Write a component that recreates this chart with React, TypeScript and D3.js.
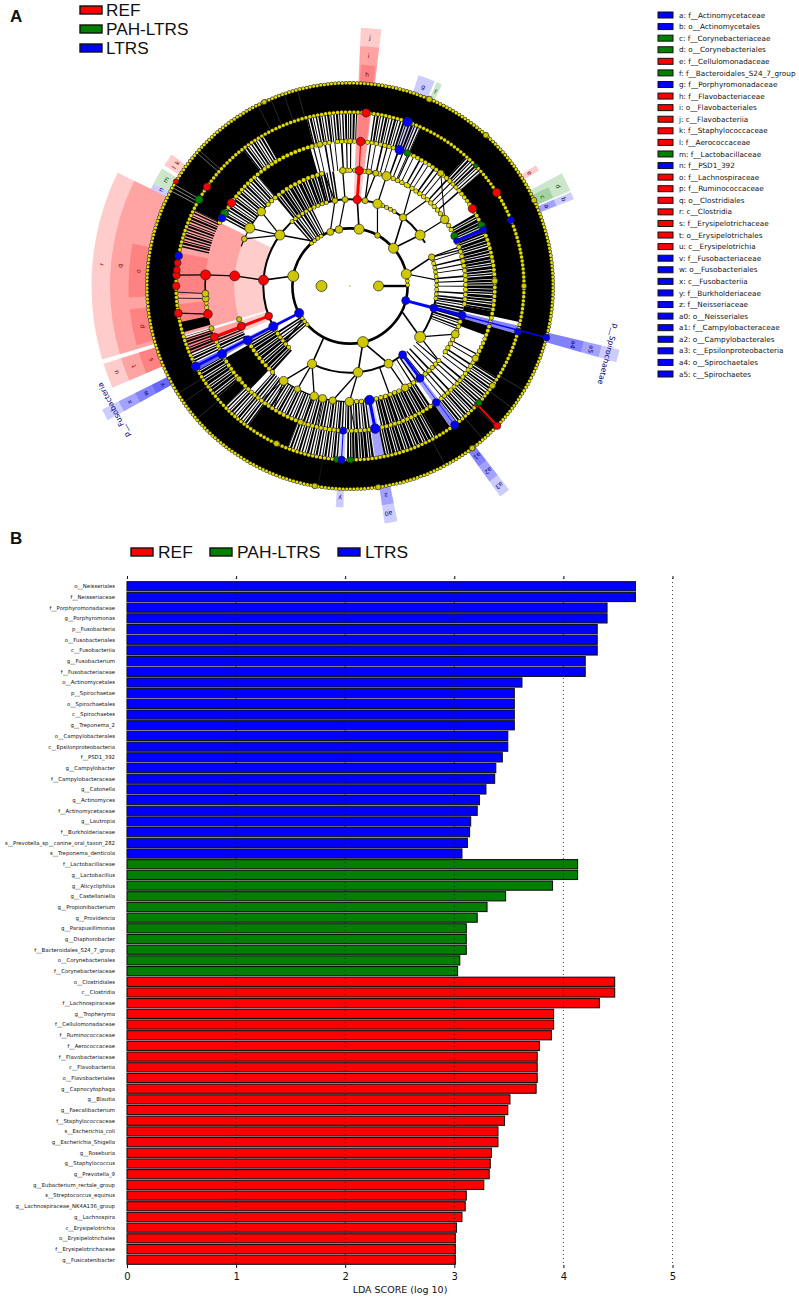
import * as d3 from "d3";
import { useEffect, useRef } from "react";

const W = 799;
const H = 1299;
const SANS = "DejaVu Sans";
const ARIAL = "Liberation Sans";

const groupNames = ["REF", "PAH-LTRS", "LTRS"];
const groupFill = ["#ff0000", "#008000", "#0000ff"];
const labelFill = ["#7a0000", "#005000", "#00007a"];

// LDA bars, top to bottom
const ltrsTaxa = ["o__Neisseriales", "f__Neisseriaceae", "f__Porphyromonadaceae", "g__Porphyromonas", "p__Fusobacteria", "o__Fusobacteriales", "c__Fusobacteriia", "g__Fusobacterium", "f__Fusobacteriaceae", "o__Actinomycetales", "p__Spirochaetae", "o__Spirochaetales", "c__Spirochaetes", "g__Treponema_2", "o__Campylobacterales", "c__Epsilonproteobacteria", "f__PSD1_392", "g__Campylobacter", "f__Campylobacteraceae", "g__Catonella", "g__Actinomyces", "f__Actinomycetaceae", "g__Lautropia", "f__Burkholderiaceae", "s__Prevotella_sp__canine_oral_taxon_282", "s__Treponema_denticola"];
const ltrsScores = [4.66, 4.66, 4.4, 4.4, 4.31, 4.31, 4.31, 4.2, 4.2, 3.62, 3.55, 3.55, 3.55, 3.55, 3.49, 3.49, 3.44, 3.38, 3.37, 3.29, 3.23, 3.21, 3.15, 3.14, 3.12, 3.07];
const pahTaxa = ["f__Lactobacillaceae", "g__Lactobacillus", "g__Alicycliphilus", "g__Castellaniella", "g__Propionibacterium", "g__Providencia", "g__Parapusillimonas", "g__Diaphorobacter", "f__Bacteroidales_S24_7_group", "o__Corynebacteriales", "f__Corynebacteriaceae"];
const pahScores = [4.13, 4.13, 3.9, 3.47, 3.3, 3.21, 3.11, 3.11, 3.11, 3.05, 3.03];
const refTaxa = ["o__Clostridiales", "c__Clostridia", "f__Lachnospiraceae", "g__Tropheryma", "f__Cellulomonadaceae", "f__Ruminococcaceae", "f__Aerococcaceae", "f__Flavobacteriaceae", "c__Flavobacteriia", "o__Flavobacteriales", "g__Capnocytophaga", "g__Blautia", "g__Faecalibacterium", "f__Staphylococcaceae", "s__Escherichia_coli", "g__Escherichia_Shigella", "g__Roseburia", "g__Staphylococcus", "g__Prevotella_9", "g__Eubacterium_rectale_group", "s__Streptococcus_equinus", "g__Lachnospiraceae_NK4A136_group", "g__Lachnospira", "c__Erysipelotrichia", "o__Erysipelotrichales", "f__Erysipelotrichaceae", "g__Fusicatenibacter"];
const refScores = [4.47, 4.47, 4.33, 3.91, 3.91, 3.89, 3.78, 3.76, 3.76, 3.76, 3.75, 3.51, 3.49, 3.46, 3.4, 3.4, 3.34, 3.33, 3.32, 3.27, 3.11, 3.1, 3.07, 3.02, 3.01, 3.01, 3.01];
const ldaTicks = [0, 1, 2, 3, 4, 5];

// cladogram key, right column: [group, text]
const keyRows: [number, string][] = [[2, "a: f__Actinomycetaceae"], [2, "b: o__Actinomycetales"], [1, "c: f__Corynebacteriaceae"], [1, "d: o__Corynebacteriales"], [0, "e: f__Cellulomonadaceae"], [1, "f: f__Bacteroidales_S24_7_group"], [2, "g: f__Porphyromonadaceae"], [0, "h: f__Flavobacteriaceae"], [0, "i: o__Flavobacteriales"], [0, "j: c__Flavobacteriia"], [0, "k: f__Staphylococcaceae"], [0, "l: f__Aerococcaceae"], [1, "m: f__Lactobacillaceae"], [2, "n: f__PSD1_392"], [0, "o: f__Lachnospiraceae"], [0, "p: f__Ruminococcaceae"], [0, "q: o__Clostridiales"], [0, "r: c__Clostridia"], [0, "s: f__Erysipelotrichaceae"], [0, "t: o__Erysipelotrichales"], [0, "u: c__Erysipelotrichia"], [2, "v: f__Fusobacteriaceae"], [2, "w: o__Fusobacteriales"], [2, "x: c__Fusobacteriia"], [2, "y: f__Burkholderiaceae"], [2, "z: f__Neisseriaceae"], [2, "a0: o__Neisseriales"], [2, "a1: f__Campylobacteraceae"], [2, "a2: o__Campylobacterales"], [2, "a3: c__Epsilonproteobacteria"], [2, "a4: o__Spirochaetales"], [2, "a5: c__Spirochaetes"]];

// cladogram: angles in degrees clockwise from north, levels are the rings 1..7
// shaded clades: [group, start, end, from ring, to outer band]
const cladeShades: [number, number, number, number, number][] = [
  [0, 2.4, 7, 3, 3], [0, 2.4, 7, 4, 2], [0, 2.8, 6.6, 5, 1],
  [0, 253.5, 296, 3, 3], [0, 253.5, 296, 4, 2], [0, 267, 281, 5, 1], [0, 254.5, 264, 5, 1],
  [0, 246.8, 252.5, 3, 3], [0, 246.8, 252.5, 4, 2], [0, 246.8, 252.5, 5, 1],
  [0, 303, 304.7, 6, 1], [0, 304.7, 306.4, 6, 1], [0, 57, 58.6, 5, 1],
  [1, 62, 66.6, 4, 2], [1, 63.5, 66.5, 5, 1], [1, 297.5, 302, 5, 1], [1, 23, 24.5, 6, 1],
  [2, 296, 297.5, 5, 1], [2, 67, 68.8, 4, 2], [2, 67, 68.8, 5, 1], [2, 18, 22.5, 5, 1],
  [2, 241, 243.5, 2, 4], [2, 241, 243.5, 3, 3], [2, 241, 243.5, 4, 2], [2, 241, 243.5, 5, 1],
  [2, 103.3, 106, 2, 4], [2, 103.3, 106, 3, 3], [2, 103.3, 106, 4, 2],
  [2, 142, 144.5, 3, 3], [2, 142, 144.5, 4, 2], [2, 142, 144.5, 5, 1],
  [2, 168.6, 171.7, 4, 2], [2, 168.6, 171.7, 5, 1], [2, 181.7, 183.7, 5, 1],
];
// letters on the clades: [group, text, angle, band]
const cladeLabels: [number, string, number, number][] = [
  [0, "h", 4.6, 0], [0, "i", 4.6, 1], [0, "j", 4.6, 2], [0, "o", 274, 0], [0, "p", 259, 0], [0, "q", 275, 1], [0, "r", 275, 2],
  [0, "s", 249.7, 0], [0, "t", 249.7, 1], [0, "u", 249.7, 2], [0, "l", 303.9, 0], [0, "k", 305.5, 0], [0, "e", 57.8, 0],
  [1, "c", 65.2, 0], [1, "d", 64.4, 1], [1, "m", 300, 0], [1, "f", 23.7, 0],
  [2, "n", 297, 0], [2, "a", 67.9, 0], [2, "b", 67.9, 1], [2, "g", 20.2, 0], [2, "v", 242.2, 0], [2, "w", 242.2, 1], [2, "x", 242.2, 2],
  [2, "a4", 104.7, 1], [2, "a5", 104.7, 2], [2, "a1", 143.2, 0], [2, "a2", 143.2, 1], [2, "a3", 143.2, 2],
  [2, "z", 170.2, 0], [2, "a0", 170.4, 1], [2, "y", 182.7, 0],
];
const phylumLabels: [string, number, number][] = [["p__Fusobacteria", 242.3, 267], ["p__Spirochaetae", 104.8, 267]];

// solid black fans of leaf edges between a ring and the next: [ring, start, end]
const solidFans: [number, number, number][] = [
  [6, 0, 360],
  [5, 296, 322], [5, 330, 345.5], [5, 24, 42], [5, 49, 102], [5, 106, 122], [5, 144.6, 150], [5, 201, 216], [5, 226, 230], [5, 254.5, 258],
  [4, 320, 344], [4, 224, 240], [4, 100, 102.5], [4, 106, 110],
];
// striped fans, dense to sparse: [ring, start, end, density]
const stripedFans: [number, number, number, number][] = [
  [5, 283, 296, 1], [5, 322, 330, 1], [5, 345.5, 360, 1], [5, 0, 2.4, 1], [5, 8, 24, 1], [5, 42, 49, 1], [5, 122, 142, 1], [5, 150, 168.6, 0], [5, 172, 181, 0], [5, 184, 201, 1], [5, 216, 226, 1], [5, 230, 241, 0], [5, 244, 253, 1],
  [4, 298, 320, 1], [4, 345, 360, 2], [4, 0, 2, 2], [4, 8, 24, 2], [4, 24, 50, 2], [4, 60, 100, 0], [4, 118, 142, 2], [4, 146, 168, 0], [4, 172, 222, 1], [4, 244, 250, 1],
  [3, 320, 345, 0], [3, 345, 352, 1], [3, 222, 241, 0], [3, 96, 112, 1], [3, 130, 150, 2], [3, 70, 96, 2],
  [2, 318, 334, 1], [2, 228, 238, 1],
];
const stripePatterns = ["2.2 0.8 1.4 1 2.8 0.7", "1.4 1.2 2 1 1 1.6", "1.2 3.5 0.9 5 1.6 3"];
const outerGaps: [number, number][] = [[298, 0.9], [299, 0.9], [300, 0.9], [311, 0.7], [312, 0.5], [333, 0.25], [337, 0.25], [341, 0.25], [345, 0.25], [121, 0.3], [127, 0.3], [134, 0.3], [139, 0.3], [152, 0.25], [189, 0.15], [229, 0.25], [235, 0.25], [238, 0.25]];

// single edges between rings: [from ring, from angle, to ring, to angle, width]
const edges: [number, number, number, number, number][] = [
  [1, 90, 2, 90, 2.4],
  [2, 9, 3, 4.8, 1.6], [2, 28.5, 3, 18.5, 1.2], [2, 49, 3, 54, 1.6], [2, 49, 3, 37.7, 1.6], [2, 78, 3, 70.5, 1.6], [2, 78, 3, 86, 1.2], [2, 340, 3, 350, 1.2], [2, 349, 3, 356.7, 1.2], [2, 321, 3, 306, 1.6], [2, 280, 3, 273.9, 1.6], [2, 167, 3, 174.7, 1.6], [2, 167, 3, 153.6, 1.6], [2, 116, 3, 126, 1.6], [2, 235, 3, 229, 1.2], [2, 207, 3, 206, 1.6],
  [3, 206, 4, 215, 1.3], [3, 206, 4, 207, 1.3], [3, 206, 4, 198, 1.3], [3, 174.7, 4, 180.3, 1.3], [3, 174.7, 4, 188.6, 1.3], [3, 153.6, 4, 151.6, 1.3], [3, 126, 4, 114.6, 1.3], [3, 126, 4, 130, 1.3], [3, 54, 4, 54.9, 1.3], [3, 18.5, 4, 18.4, 1.3], [3, 10, 4, 9.3, 1.3], [3, 10, 4, 12.9, 1.3], [3, 356.7, 4, 356.4, 1.3], [3, 350, 4, 347, 1.3], [3, 306, 4, 310, 1.3], [3, 306, 4, 300, 1.3], [3, 306, 4, 294, 1.3], [3, 37.7, 4, 32, 1.3], [3, 37.7, 4, 42, 1.3], [3, 70.5, 4, 72, 1.3], [3, 160, 4, 160, 1.3], [3, 273.9, 4, 275, 1.4],
  [4, 54.9, 5, 38.8, 1], [4, 180.3, 5, 178, 1], [4, 193.7, 5, 193, 1], [4, 198, 5, 199, 1], [4, 215, 5, 212, 1], [4, 215, 5, 218, 1], [4, 275, 5, 274.4, 1.4],
  [5, 274.4, 6, 273.6, 1.2], [5, 258.8, 6, 261, 1.2], [5, 265, 6, 266, 0.8], [5, 267, 6, 268, 0.8],
];
// thick branch arcs along a ring: [ring, start, end, width]
const branchArcs: [number, number, number, number][] = [
  [2, 0, 360, 2.6], [3, 142, 206, 2], [3, 242, 360, 2], [3, 0, 60, 2], [3, 70, 126, 2], [4, 290, 315, 1.2], [4, 112, 126, 1.2], [4, 180, 215, 1.2], [5, 258, 275, 1.6],
];
// strings of small nodes along a ring: [ring, start, end]
const beadRuns: [number, number, number][] = [
  [2, 318, 332], [2, 228, 236], [2, 85, 90],
  [3, 318, 346], [3, 22, 32], [3, 72, 100], [3, 225, 241],
  [4, 315, 348], [4, 10, 30], [4, 30, 62], [4, 68, 100], [4, 108, 125], [4, 130, 151], [4, 155, 170], [4, 172, 180], [4, 222, 241], [4, 356, 360], [4, 0, 8],
  [5, 296, 352], [5, 355, 360], [5, 0, 250], [5, 258, 268],
  [6, 0, 360], [7, 0, 360],
];
const beadPitch = [0, 0, 4, 4.4, 4.8, 4.4, 4, 3.6];
const beadSize = [0, 0, 3.4, 3.6, 4, 3.8, 3.4, 3];
// larger yellow nodes: [ring, angle, radius]
const yellowNodes: [number, number, number][] = [
  [1, 270, 5.5], [1, 90, 5],
  [2, 9, 5], [2, 28.5, 2.8], [2, 49, 5], [2, 78, 5], [2, 167, 5.5], [2, 280, 5.5], [2, 340, 3.5], [2, 349, 3.8],
  [3, 306, 5], [3, 350, 2.8], [3, 356.7, 3], [3, 10, 3], [3, 18.5, 4.6], [3, 37.7, 3.6], [3, 54, 5], [3, 70.5, 3.2], [3, 126, 5.5], [3, 153.6, 4.4], [3, 174.7, 4.8], [3, 206, 4.6],
  [4, 310, 4.2], [4, 300, 5], [4, 294, 2.8], [4, 356.4, 3.2], [4, 9.3, 2.8], [4, 12.9, 3], [4, 18.4, 4.6], [4, 54.9, 4.2], [4, 114.6, 4], [4, 215, 4.4], [4, 207, 3.2], [4, 198, 4.2], [4, 193.7, 4], [4, 188.6, 3.6], [4, 180.3, 4.4], [4, 151.6, 3.8], [4, 253.3, 2.6],
  [5, 38.8, 3.2], [5, 253, 2.6], [5, 265, 3.4], [5, 267, 3.4], [5, 348, 3], [5, 0, 2.8], [5, 88, 3], [5, 120, 3.4], [5, 200, 3], [5, 230, 3],
  [6, 20, 3], [6, 90, 2.8], [6, 125, 3], [6, 205, 3],
  [7, 23, 3], [7, 335, 2.6], [7, 42, 2.8], [7, 65, 2.8], [7, 143, 2.8], [7, 190, 2.8], [7, 172, 2.8],
];
// coloured nodes: [ring, angle, radius]
const refNodes: [number, number, number][] = [[3, 4.8, 4.2], [4, 4.6, 4.2], [5, 4.2, 4.2], [6, 5.3, 4.2], [6, 304.7, 3.8], [5, 305, 4.2], [3, 273.9, 5], [4, 275, 5], [5, 274.4, 5], [6, 273.6, 3.8], [6, 270, 3.8], [6, 277.6, 3.4], [6, 275.3, 3.4], [5, 258.8, 4.4], [6, 261, 4], [3, 249.7, 3.8], [4, 249.7, 4], [5, 249.4, 4], [6, 57.5, 4.2], [5, 57.7, 4.2], [7, 133.5, 3.6], [6, 133, 2.8], [7, 301, 2.6]];
const pahNodes: [number, number, number][] = [[6, 299.8, 4], [5, 300, 4], [5, 23.3, 3.2], [6, 46.3, 2.2], [5, 65.2, 3.6], [4, 64.4, 3.6], [6, 184.4, 3], [6, 179.8, 3], [6, 132.2, 3.2]];
const ltrsNodes: [number, number, number][] = [[6, 19.3, 4.6], [5, 20, 4.6], [6, 280, 3.8], [5, 297.9, 3.8], [4, 67, 3], [5, 67.2, 3.4], [6, 67.7, 3.4], [2, 242, 4.6], [3, 242.2, 4.6], [4, 242, 4.6], [5, 242, 4.6], [6, 242.5, 4.4], [5, 182.7, 3.6], [6, 182.8, 3.6], [4, 170.3, 4.8], [5, 170, 4.8], [2, 104.7, 4], [3, 104.7, 4], [4, 104.7, 4], [6, 105.2, 3.4], [7, 104.7, 3.4], [3, 142.6, 4], [4, 142.8, 4], [5, 143.5, 3.8], [6, 143, 4]];
// coloured edges: [group, from ring, from angle, to ring, to angle, width]
const cladeEdges: [number, number, number, number, number, number][] = [
  [0, 3, 4.8, 4, 4.6, 3], [0, 4, 4.6, 5, 4.2, 1.2], [0, 3, 249.7, 5, 249.4, 3], [0, 6, 133, 7, 133.5, 2],
  [2, 2, 242, 6, 242.5, 2.6], [2, 2, 104.7, 4, 104.7, 3], [2, 4, 104.7, 7, 104.7, 1.4], [2, 3, 142.6, 4, 142.8, 3], [2, 4, 142.8, 6, 143, 0.8], [2, 4, 67, 5, 67.2, 3], [2, 4, 170.3, 5, 170, 3], [2, 5, 182.7, 6, 182.8, 1],
];

const ringRadius = d3.scaleLinear().domain([1, 7]).range([28.5, 203]);
const bandRadius = d3.scaleLinear().domain([0, 4]).range([203, 277]);
const rad = (deg: number) => (deg * Math.PI) / 180;
const polar = (ring: number, deg: number) => d3.pointRadial(rad(deg), ringRadius(ring));

function arcPath(r: number, a0: number, a1: number) {
  const p = d3.path();
  p.arc(0, 0, r, rad(a0) - Math.PI / 2, rad(a1) - Math.PI / 2);
  return p.toString();
}

function drawCladogram(svg: d3.Selection<SVGSVGElement, unknown, null, undefined>) {
  const g = svg.append("g").attr("transform", "translate(350,286)");
  const sector = d3.arc();

  g.selectAll(".shade").data(cladeShades).join("path")
    .attr("fill", (d) => groupFill[d[0]])
    .attr("fill-opacity", 0.2)
    .attr("d", (d) => sector({ innerRadius: ringRadius(d[3]), outerRadius: bandRadius(d[4]), startAngle: rad(d[1]), endAngle: rad(d[2]) }));

  g.append("g").selectAll("path").data(solidFans).join("path")
    .attr("fill", "#000")
    .attr("d", (d) => sector({ innerRadius: ringRadius(d[0]), outerRadius: ringRadius(d[0] + 1), startAngle: rad(d[1]), endAngle: rad(d[2]) }));

  // a wide dashed arc reads as many fine radial edges
  const bandWidth = ringRadius(2) - ringRadius(1);
  g.append("g").selectAll("path").data(stripedFans).join("path")
    .attr("fill", "none").attr("stroke", "#000")
    .attr("stroke-width", bandWidth)
    .attr("stroke-dasharray", (d) => stripePatterns[d[3]])
    .attr("d", (d) => arcPath(ringRadius(d[0]) + bandWidth / 2, d[1], d[2]));

  g.append("g").selectAll("line").data(outerGaps).join("line")
    .attr("stroke", "#fff").attr("stroke-width", 0.6)
    .attr("stroke-opacity", (d) => d[1])
    .attr("x1", (d) => polar(6, d[0])[0]).attr("y1", (d) => polar(6, d[0])[1])
    .attr("x2", (d) => polar(7, d[0])[0]).attr("y2", (d) => polar(7, d[0])[1]);

  g.append("g").selectAll("path").data(branchArcs).join("path")
    .attr("fill", "none").attr("stroke", "#000")
    .attr("stroke-width", (d) => d[3])
    .attr("d", (d) => arcPath(ringRadius(d[0]), d[1], d[2]));

  g.append("g").selectAll("line").data(edges).join("line")
    .attr("stroke", "#000")
    .attr("stroke-width", (d) => d[4])
    .attr("x1", (d) => polar(d[0], d[1])[0]).attr("y1", (d) => polar(d[0], d[1])[1])
    .attr("x2", (d) => polar(d[2], d[3])[0]).attr("y2", (d) => polar(d[2], d[3])[1]);

  // runs of small nodes: dark rim under a yellow core
  [1, 0].forEach((rim) => {
    g.append("g").selectAll("path").data(beadRuns).join("path")
      .attr("fill", "none")
      .attr("stroke", rim ? "#222" : "#e2dc00")
      .attr("stroke-linecap", "round")
      .attr("stroke-width", (d) => beadSize[d[0]] + rim)
      .attr("stroke-dasharray", (d) => `0 ${beadPitch[d[0]]}`)
      .attr("d", (d) => arcPath(ringRadius(d[0]), d[1], d[2]));
  });

  g.append("g").selectAll("path").data(cladeEdges).join("path")
    .attr("fill", "none")
    .attr("stroke", (d) => groupFill[d[0]])
    .attr("stroke-width", (d) => d[5])
    .attr("d", (d) => d3.line()([polar(d[1], d[2]), polar(d[3], d[4])]));

  const nodeLayer = (data: [number, number, number][], fill: string) =>
    g.append("g").selectAll("circle").data(data).join("circle")
      .attr("cx", (d) => polar(d[0], d[1])[0])
      .attr("cy", (d) => polar(d[0], d[1])[1])
      .attr("r", (d) => d[2])
      .attr("fill", fill).attr("stroke", "#222").attr("stroke-width", 0.7);
  nodeLayer(yellowNodes, "#cfc800");
  nodeLayer(refNodes, groupFill[0]);
  nodeLayer(pahNodes, groupFill[1]);
  nodeLayer(ltrsNodes, groupFill[2]);

  g.append("circle").attr("r", 0.8).attr("fill", "#b8b800");

  g.append("g").selectAll("text").data(cladeLabels).join("text")
    .attr("transform", (d) => {
      const [x, y] = d3.pointRadial(rad(d[2]), bandRadius(d[3] + 0.5));
      return `translate(${x},${y}) rotate(${d[2]})`;
    })
    .attr("text-anchor", "middle").attr("dy", "0.35em")
    .attr("font-family", SANS).attr("font-size", 6.2)
    .attr("fill", (d) => labelFill[d[0]])
    .text((d) => d[1]);
  g.append("g").selectAll("text").data(phylumLabels).join("text")
    .attr("transform", (d) => {
      const [x, y] = d3.pointRadial(rad(d[1]), d[2]);
      return `translate(${x},${y}) rotate(${d[1]})`;
    })
    .attr("text-anchor", "middle").attr("dy", "0.35em")
    .attr("font-family", SANS).attr("font-size", 7.6)
    .attr("fill", "#00007a")
    .text((d) => d[0]);
}

function drawLegends(svg: d3.Selection<SVGSVGElement, unknown, null, undefined>) {
  const topRow = d3.scalePoint<string>().domain(groupNames).range([10, 48]);
  groupNames.forEach((name, i) => {
    svg.append("rect").attr("x", 80).attr("y", topRow(name)! - 4).attr("width", 22).attr("height", 8)
      .attr("fill", groupFill[i]).attr("stroke", "#111").attr("stroke-width", 1.4);
    svg.append("text").attr("x", 106).attr("y", topRow(name)!).attr("dy", "0.36em")
      .attr("font-family", ARIAL).attr("font-size", 17.2).attr("fill", "#111").text(name);
  });

  const lowerX = [131, 210, 338];
  groupNames.forEach((name, i) => {
    svg.append("rect").attr("x", lowerX[i]).attr("y", 548).attr("width", 22).attr("height", 8)
      .attr("fill", groupFill[i]).attr("stroke", "#111").attr("stroke-width", 1.4);
    svg.append("text").attr("x", lowerX[i] + 27).attr("y", 552).attr("dy", "0.36em")
      .attr("font-family", ARIAL).attr("font-size", 17.4).attr("fill", "#111").text(name);
  });

  const keyY = d3.scaleLinear().domain([0, keyRows.length - 1]).range([15, 374]);
  const key = svg.append("g").selectAll("g").data(keyRows).join("g")
    .attr("transform", (_, i) => `translate(658,${keyY(i)})`);
  key.append("rect").attr("y", -3).attr("width", 15).attr("height", 6)
    .attr("fill", (d) => groupFill[d[0]]).attr("stroke", "#111").attr("stroke-width", 1);
  key.append("text").attr("x", 21).attr("dy", "0.36em")
    .attr("font-family", SANS).attr("font-size", 7.25).attr("fill", "#111")
    .text((d) => d[1]);
}

function drawBars(svg: d3.Selection<SVGSVGElement, unknown, null, undefined>) {
  const rows = [
    ...ltrsTaxa.map((t, i) => ({ taxon: t, score: ltrsScores[i], group: 2 })),
    ...pahTaxa.map((t, i) => ({ taxon: t, score: pahScores[i], group: 1 })),
    ...refTaxa.map((t, i) => ({ taxon: t, score: refScores[i], group: 0 })),
  ];
  const x = d3.scaleLinear().domain([0, 5]).range([127, 672.5]);
  const y = d3.scaleBand<string>().domain(rows.map((r) => r.taxon)).range([581.7, 1264.3]).paddingInner(0.14);

  svg.append("g").selectAll("rect").data(rows).join("rect")
    .attr("x", x(0))
    .attr("y", (d) => y(d.taxon)!)
    .attr("width", (d) => x(d.score) - x(0))
    .attr("height", y.bandwidth())
    .attr("fill", (d) => groupFill[d.group])
    .attr("stroke", "#111").attr("stroke-width", 1.1);

  svg.append("g").selectAll("text").data(rows).join("text")
    .attr("x", 115)
    .attr("y", (d) => y(d.taxon)! + y.bandwidth() / 2)
    .attr("dy", "0.36em").attr("text-anchor", "end")
    .attr("font-family", SANS).attr("font-size", 5.35).attr("fill", "#111")
    .text((d) => d.taxon);

  // dotted grid sits over the bars
  svg.append("g").selectAll("line").data(ldaTicks.slice(1)).join("line")
    .attr("x1", (d) => x(d)).attr("x2", (d) => x(d))
    .attr("y1", 578).attr("y2", 1265)
    .attr("stroke", "#111").attr("stroke-width", 0.8).attr("stroke-dasharray", "1 3");

  const bottom = svg.append("g").attr("transform", "translate(0,1265)")
    .call(d3.axisBottom(x).tickValues(ldaTicks).tickFormat(d3.format("d")).tickSize(3).tickPadding(5));
  bottom.select(".domain").remove();
  bottom.selectAll("text").attr("font-family", SANS).attr("font-size", 10).attr("fill", "#111");
  bottom.selectAll("line").attr("stroke", "#111");
  const top = svg.append("g").attr("transform", "translate(0,579)")
    .call(d3.axisTop(x).tickValues(ldaTicks).tickFormat(() => "").tickSize(3));
  top.select(".domain").remove();
  top.selectAll("line").attr("stroke", "#111");

  svg.append("text").attr("x", 400).attr("y", 1293).attr("text-anchor", "middle")
    .attr("font-family", SANS).attr("font-size", 9.5).attr("fill", "#111").text("LDA SCORE (log 10)");
}

export default function App() {
  const ref = useRef<SVGSVGElement | null>(null);

  useEffect(() => {
    if (!ref.current) return;
    const svg = d3.select(ref.current);
    svg.selectAll("*").remove();
    drawCladogram(svg);
    drawLegends(svg);
    drawBars(svg);
    const panelTags: [string, number][] = [["A", 22], ["B", 544]];
    panelTags.forEach(([t, yy]) => {
      svg.append("text").attr("x", 10).attr("y", yy)
        .attr("font-family", ARIAL).attr("font-weight", "bold").attr("font-size", 17).attr("fill", "#111").text(t);
    });
  }, []);

  return <svg ref={ref} width={W} height={H} style={{ position: "absolute", left: 0, top: 0, background: "#fff" }} />;
}
